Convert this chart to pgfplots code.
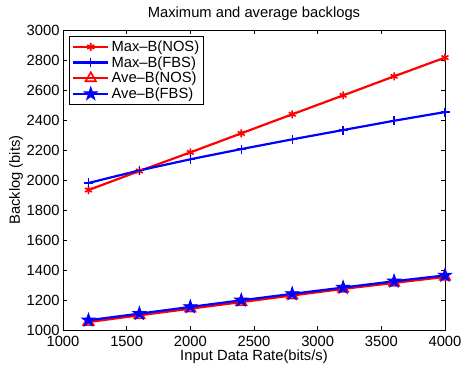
\documentclass[border=0pt]{standalone}
\usepackage{fontspec}
\setmainfont{Liberation Sans}
\usepackage{pgfplots}
\pgfplotsset{compat=1.18}
\pgfdeclareplotmark{pstar}{%
  \pgfpathmoveto{\pgfpointpolar{90}{\pgfplotmarksize}}%
  \pgfpathlineto{\pgfpointpolar{126}{0.382\pgfplotmarksize}}%
  \pgfpathlineto{\pgfpointpolar{162}{\pgfplotmarksize}}%
  \pgfpathlineto{\pgfpointpolar{198}{0.382\pgfplotmarksize}}%
  \pgfpathlineto{\pgfpointpolar{234}{\pgfplotmarksize}}%
  \pgfpathlineto{\pgfpointpolar{270}{0.382\pgfplotmarksize}}%
  \pgfpathlineto{\pgfpointpolar{306}{\pgfplotmarksize}}%
  \pgfpathlineto{\pgfpointpolar{342}{0.382\pgfplotmarksize}}%
  \pgfpathlineto{\pgfpointpolar{18}{\pgfplotmarksize}}%
  \pgfpathlineto{\pgfpointpolar{54}{0.382\pgfplotmarksize}}%
  \pgfpathclose
  \pgfusepathqfillstroke
}
\begin{document}
\begin{tikzpicture}
\path[use as bounding box] (-63bp,-39bp) rectangle (398bp,330bp);
\begin{axis}[
  scale only axis,
  width=382bp, height=300bp,
  xmin=1000, xmax=4000, ymin=1000, ymax=3000,
  xtick={1000,1500,...,4000},
  ytick={1000,1200,...,3000},
  tick align=inside,
  major tick length=4bp,
  axis line style={line width=0.7pt},
  tick style={black, line width=0.5pt},
  /pgf/number format/assume math mode=true,
  /pgf/number format/set thousands separator={},
  tick label style={font=\fontsize{14.8}{17}\selectfont},
  xticklabel style={yshift=-2.5bp},
  label style={font=\fontsize{14.8}{17}\selectfont},
  title style={font=\fontsize{14.8}{17}\selectfont, yshift=0bp},
  title={Maximum and average backlogs},
  xlabel={Input Data Rate(bits/s)},
  ylabel={Backlog (bits)},
  xlabel style={yshift=3.5bp},
  ylabel style={yshift=-3bp},
  legend style={at={(0.016,0.98)}, anchor=north west, draw=black, line width=0.7pt,
    font=\fontsize{14.8}{17}\selectfont, row sep=-0.5bp, inner sep=2.5bp},
  legend cell align=left,
  legend image code/.code={\draw[#1] (0cm,0cm) -- (1.25cm,0cm); \draw[#1] plot coordinates {(0.625cm,0cm)};},
]
\addplot[red, line width=2.2pt, mark=asterisk, mark size=4bp, mark options={line width=1.6pt}] coordinates {
(1200,1933) (1600,2060) (2000,2184) (2400,2311) (2800,2438) (3200,2564) (3600,2691) (4000,2816)};
\addlegendentry{Max--B(NOS)}
\addplot[blue, line width=2.2pt, mark=+, mark size=4.5bp, mark options={line width=1.4pt}] coordinates {
(1200,1980) (1600,2064) (2000,2138) (2400,2206) (2800,2271) (3200,2333) (3600,2395) (4000,2453)};
\addlegendentry{Max--B(FBS)}
\addplot[red, line width=2.2pt, mark=triangle, mark size=6bp, mark options={line width=1.6pt, solid}] coordinates {
(1200,1053) (1600,1098) (2000,1142) (2400,1186) (2800,1230) (3200,1274) (3600,1314) (4000,1354)};
\addlegendentry{Ave--B(NOS)}
\addplot[blue, line width=2.2pt, mark=pstar, mark size=7bp, mark options={fill=blue, line width=0.8pt}] coordinates {
(1200,1065) (1600,1109) (2000,1154) (2400,1198) (2800,1241) (3200,1283) (3600,1325) (4000,1364)};
\addlegendentry{Ave--B(FBS)}
\end{axis}
\end{tikzpicture}
\end{document}
